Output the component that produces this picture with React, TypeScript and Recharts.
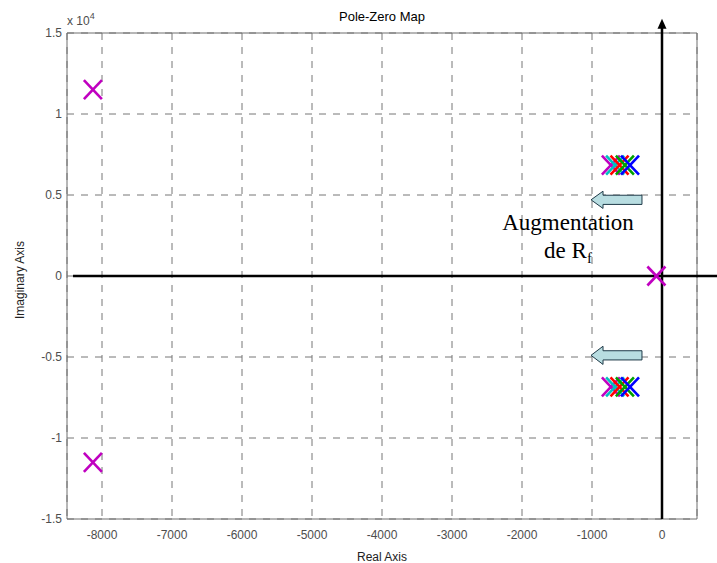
import { ScatterChart, Scatter, XAxis, YAxis, CartesianGrid, ReferenceArea, ReferenceLine, ReferenceDot } from 'recharts'

// poles (real, imaginary)
const magentaPoles = [
  { re: -8130, im: 11500 },
  { re: -8130, im: -11500 },
  { re: -730, im: 6850 },
  { re: -730, im: -6850 },
  { re: -80, im: 0 },
]
const cyanPoles = [
  { re: -670, im: 6850 },
  { re: -670, im: -6850 },
]
const redPoles = [
  { re: -607, im: 6850 },
  { re: -607, im: -6850 },
]
const greenPoles = [
  { re: -530, im: 6850 },
  { re: -530, im: -6850 },
]
const bluePoles = [
  { re: -457, im: 6850 },
  { re: -457, im: -6850 },
]

const xTicks = [-8000, -7000, -6000, -5000, -4000, -3000, -2000, -1000, 0]
const yTicks = [-15000, -10000, -5000, 0, 5000, 10000, 15000]

const series = [
  { name: 'sys1', data: magentaPoles, color: '#c000c0' },
  { name: 'sys2', data: cyanPoles, color: '#00bfbf' },
  { name: 'sys3', data: redPoles, color: '#ff0000' },
  { name: 'sys4', data: greenPoles, color: '#00a000' },
  { name: 'sys5', data: bluePoles, color: '#0000ff' },
]

// "Augmentation de Rf" arrows
const arrowBoxes = [
  { x1: -1014, x2: -286, y1: 4170, y2: 5235 },
  { x1: -1014, x2: -286, y1: -5460, y2: -4335 },
]

const font = 'Arial, "Liberation Sans", sans-serif'
const tickStyle = { fill: '#4d4d4d', fontSize: 12, fontFamily: font }

function cross(color: string) {
  return (props: any) => {
    const { cx, cy } = props
    if (cx == null || cy == null) return <g />
    return (
      <g>
        <line x1={cx - 9} y1={cy - 9.5} x2={cx + 9} y2={cy + 9.5} stroke={color} strokeWidth={2.6} />
        <line x1={cx - 9} y1={cy + 9.5} x2={cx + 9} y2={cy - 9.5} stroke={color} strokeWidth={2.6} />
      </g>
    )
  }
}

function LeftArrow(props: any) {
  const { x, y, width, height } = props
  const cy = y + height / 2
  const hl = 12
  const bh = 4.6
  const pts = [
    [x, cy],
    [x + hl, y],
    [x + hl, cy - bh],
    [x + width, cy - bh],
    [x + width, cy + bh],
    [x + hl, cy + bh],
    [x + hl, y + height],
  ]
  return <polygon points={pts.map((p) => p.join(',')).join(' ')} fill="#b8dde1" stroke="#1f3a48" strokeWidth={1} />
}

function UpArrowLine(props: any) {
  const { x1, y1, x2, y2 } = props
  const top = Math.min(y1, y2)
  const bottom = Math.max(y1, y2)
  return (
    <g>
      <line x1={x1} y1={bottom} x2={x2} y2={top + 6} stroke="#000" strokeWidth={2.5} />
      <polygon points={`${x1},${top} ${x1 - 4.5},${top + 10} ${x1 + 4.5},${top + 10}`} fill="#000" />
    </g>
  )
}

function AnnotationText(props: any) {
  const { cx, cy } = props
  const style = { fontFamily: '"Liberation Serif", "Times New Roman", serif', fill: '#000' }
  return (
    <g>
      <text x={cx} y={cy} textAnchor="middle" fontSize={23} style={style}>
        Augmentation
      </text>
      <text x={cx} y={cy + 28} textAnchor="middle" fontSize={23} style={style}>
        de R
        <tspan dy={5} fontSize={15}>
          f
        </tspan>
      </text>
    </g>
  )
}

function YLabel(props: any) {
  const { viewBox } = props
  const x = viewBox.x + 20
  const y = viewBox.y + viewBox.height / 2 + 4
  return (
    <text x={x} y={y} transform={`rotate(-90, ${x}, ${y})`} textAnchor="middle" dominantBaseline="central" fontSize={12} fontFamily={font} fill="#222">
      Imaginary Axis
    </text>
  )
}

export default function App() {
  return (
    <div style={{ position: 'absolute', left: 0, top: 0, width: 717, height: 563, background: '#fff' }}>
      <div style={{ position: 'absolute', left: 282, top: 9, width: 200, textAlign: 'center', fontFamily: font, fontSize: 13, color: '#000' }}>
        Pole-Zero Map
      </div>
      <div style={{ position: 'absolute', left: 67, top: 12, fontFamily: font, fontSize: 12, color: '#4d4d4d' }}>
        x 10<sup style={{ fontSize: 9, position: 'relative', top: -1 }}>4</sup>
      </div>
      <ScatterChart width={717} height={563} margin={{ top: 33, right: 20, bottom: 0, left: 0 }}>
        <CartesianGrid stroke="#777777" strokeDasharray="7 7" />
        <XAxis
          type="number"
          dataKey="re"
          domain={[-8500, 500]}
          ticks={xTicks}
          allowDataOverflow
          height={44}
          tickLine={false}
          tickSize={0}
          tickMargin={11}
          axisLine={false}
          tick={tickStyle}
          label={{ value: 'Real Axis', position: 'insideBottom', offset: 2, fontSize: 12, fontFamily: font, fill: '#222' }}
        />
        <YAxis
          type="number"
          dataKey="im"
          domain={[-15000, 15000]}
          ticks={yTicks}
          allowDataOverflow
          width={67}
          tickLine={false}
          tickSize={3}
          tickMargin={2}
          axisLine={false}
          tick={tickStyle}
          tickFormatter={(v: number) => String(v / 10000)}
          label={<YLabel />}
        />
        <ReferenceArea x1={-8500} x2={500} y1={-15000} y2={15000} fill="none" fillOpacity={0} stroke="#6e6e6e" strokeWidth={1} ifOverflow="visible" />
        <ReferenceLine
          segment={[{ x: -8414, y: 0 }, { x: 786, y: 0 }]}
          stroke="#000"
          strokeWidth={2.5}
          ifOverflow="visible"
        />
        <ReferenceLine
          segment={[{ x: 0, y: -15000 }, { x: 0, y: 15880 }]}
          ifOverflow="visible"
          shape={UpArrowLine}
        />
        {arrowBoxes.map((a, i) => (
          <ReferenceArea key={i} x1={a.x1} x2={a.x2} y1={a.y1} y2={a.y2} ifOverflow="visible" shape={LeftArrow} />
        ))}
        <ReferenceDot x={-1343} y={2870} r={0} ifOverflow="visible" shape={AnnotationText} />
        {series.map((s) => (
          <Scatter key={s.name} name={s.name} data={s.data} shape={cross(s.color)} isAnimationActive={false} />
        ))}
      </ScatterChart>
    </div>
  )
}
